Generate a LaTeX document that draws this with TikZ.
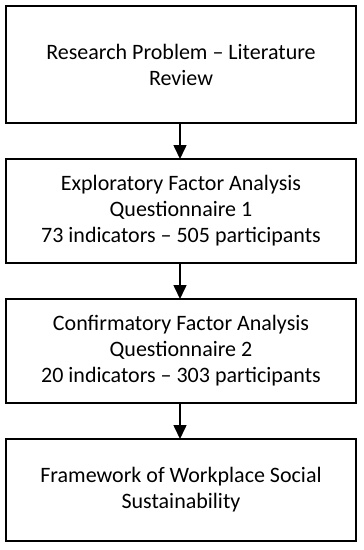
\documentclass[tikz,border=0pt]{standalone}
\usepackage{fontspec}
\setmainfont{Carlito}
\usetikzlibrary{arrows.meta}
\begin{document}
\begin{tikzpicture}[x=1pt,y=-1pt,
  flowbox/.style={draw=black,line width=1.4pt,fill=white,minimum width=350pt,align=center,inner sep=0pt,outer sep=0pt,
    font=\fontsize{22}{26}\selectfont},
  flowarrow/.style={line width=1.6pt,-{Triangle[length=14pt,width=13pt]}}]
\useasboundingbox (0,0) rectangle (364,550);
\fill[white] (0,0) rectangle (364,550);
\node[flowbox,minimum height=117pt] (b1) at (181,64.5) {Research Problem -- Literature\\Review};
\node[flowbox,minimum height=104pt] (b2) at (181,211) {Exploratory Factor Analysis\\Questionnaire 1\\73 indicators -- 505 participants};
\node[flowbox,minimum height=104pt] (b3) at (181,351) {Confirmatory Factor Analysis\\Questionnaire 2\\20 indicators -- 303 participants};
\node[flowbox,minimum height=102pt] (b4) at (181,490) {Framework of Workplace Social\\Sustainability};
\draw[flowarrow] (b1.south -| 180,0) -- (b2.north -| 180,0);
\draw[flowarrow] (b2.south -| 180,0) -- (b3.north -| 180,0);
\draw[flowarrow] (b3.south -| 180,0) -- (b4.north -| 180,0);
\end{tikzpicture}
\end{document}
